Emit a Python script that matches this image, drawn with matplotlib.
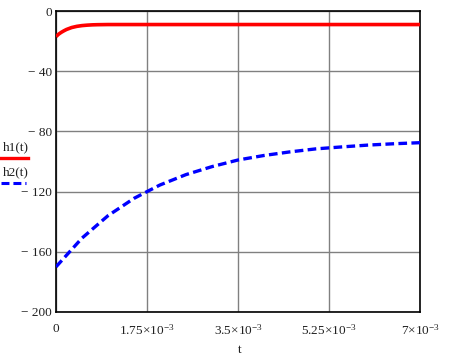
import matplotlib
matplotlib.use("Agg")
import matplotlib.pyplot as plt
from matplotlib.lines import Line2D

plt.rcParams['font.family'] = ['Liberation Serif', 'DejaVu Serif']
plt.rcParams['mathtext.fontset'] = 'custom'
plt.rcParams['mathtext.rm'] = 'Liberation Serif'
plt.rcParams['mathtext.it'] = 'Liberation Serif'

# Data
t1 = [0, 0.00005, 0.0001, 0.00015, 0.0002, 0.0003, 0.0004, 0.0005, 0.0006, 0.0007, 0.0008, 0.001, 0.002, 0.004, 0.007]
h1 = [-17.0, -15.4, -14.2, -13.2, -12.3, -11.0, -10.2, -9.7, -9.4, -9.2, -9.1, -9.0, -9.0, -9.0, -9.0]

t2 = [0, 0.0005, 0.001, 0.0015, 0.00175, 0.002, 0.0025, 0.003, 0.0035, 0.004, 0.0045, 0.005, 0.0055, 0.006, 0.0065, 0.007]
h2 = [-170.0, -150.9, -136.0, -124.5, -120.0, -115.6, -108.7, -103.4, -99.0, -96.0, -93.6, -91.6, -90.3, -89.1, -88.2, -87.5]

xticks = [0, 0.00175, 0.0035, 0.00525, 0.007]
xtick_labels = ['0', r'$1.75{\times}10^{-3}$', r'$3.5{\times}10^{-3}$', r'$5.25{\times}10^{-3}$', r'$7{\times}10^{-3}$']
yticks = [0, -40, -80, -120, -160, -200]
ytick_labels = ['0', '\u2212 40', '\u2212 80', '\u2212 120', '\u2212 160', '\u2212 200']

FS = 9.5

fig = plt.figure(figsize=(4.61, 3.57), dpi=100)
ax = fig.add_axes([56/461, 1 - 312/357, (420 - 56)/461, (312 - 11)/357])

ax.plot(t1, h1, color='#ff0000', lw=2.6, solid_capstyle='butt', zorder=3)
ax.plot(t2, h2, color='#0000ff', lw=2.4, linestyle=(0, (2.6, 1.3)), zorder=3)

ax.set_xlim(0, 0.007)
ax.set_ylim(-200, 0)
ax.set_xticks(xticks)
ax.set_xticklabels(xtick_labels, fontsize=FS, color='#202020')
ax.set_yticks(yticks)
ax.set_yticklabels(ytick_labels, fontsize=FS, color='#202020')
ax.tick_params(length=0, pad=3)
ax.tick_params(axis='x', pad=8)
ax.grid(True, color='#808080', lw=1.0)
ax.set_axisbelow(True)
for s in ax.spines.values():
    s.set_color('black')
    s.set_linewidth(1.2)

fig.text(240/461, 1 - 350/357, 't', fontsize=FS, ha='center', va='center', color='#202020')

# Legend-like labels on the left
fig.text(3/461, 1 - 147/357, 'h1(t)', fontsize=FS, ha='left', va='center', color='#202020')
fig.add_artist(Line2D([1/461, 28/461], [1 - 158/357, 1 - 158/357], color='#ff0000', lw=2.4, transform=fig.transFigure))
fig.text(3/461, 1 - 172/357, 'h2(t)', fontsize=FS, ha='left', va='center', color='#202020')
fig.add_artist(Line2D([1/461, 26/461], [1 - 183/357, 1 - 183/357], color='#0000ff', lw=2.2,
                      linestyle=(0, (2.6, 1.3)), transform=fig.transFigure))

fig.savefig('out.png', dpi=100)
